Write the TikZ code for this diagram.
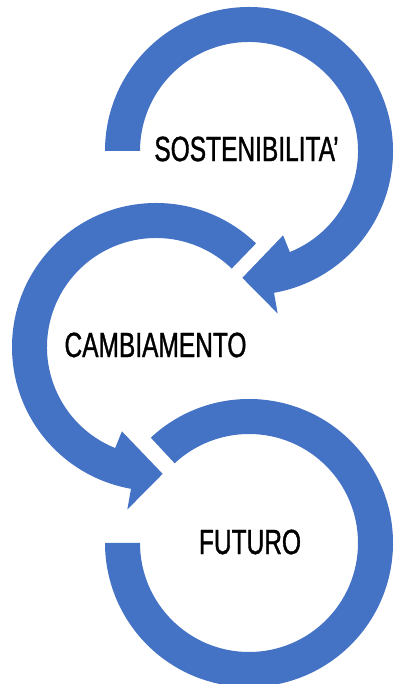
\documentclass[tikz,border=0pt]{standalone}
\usepackage{fontspec}
\usepackage{tikz}
\usetikzlibrary{positioning, calc}
\newfontfamily\ringfont[FakeStretch=0.7,FakeBold=1]{Liberation Sans}
\definecolor{ringblue}{RGB}{68,114,196}

\begin{document}
\begin{tikzpicture}[x=1pt,y=1pt,
  ring/.style={fill=ringblue},
  label/.style={inner sep=0pt,font=\ringfont\fontsize{35}{40}\selectfont}]
\useasboundingbox (0,0) rectangle (396,684);

% Top ring (clockwise, head at the bottom)
\coordinate (ctop) at (249,533);
\fill[ring,shift={(ctop)}] (180:144) arc[start angle=180,end angle=-80,radius=144]
  -- (-80:165) -- (-93:127) -- (-68:91) -- (-68:109)
  arc[start angle=-68,end angle=180,radius=109] -- cycle;
\node[label] (sost) at (246.5,535) {SOSTENIBILITA’};

% Middle ring (anticlockwise, head at the bottom)
\coordinate (cmid) at (156,337);
\fill[ring,shift={(cmid)}] (46:144) arc[start angle=46,end angle=260,radius=144]
  -- (260:165) -- (273:127) -- (248:91) -- (248:109)
  arc[start angle=248,end angle=46,radius=109] -- cycle;
\node[label] (camb) at (155.5,339) {CAMBIAMENTO};

% Bottom ring (no head)
\coordinate (cbot) at (249,141);
\fill[ring,shift={(cbot)}] (133:144) arc[start angle=133,end angle=-180,radius=144]
  -- (-180:109) arc[start angle=-180,end angle=133,radius=109] -- cycle;
\node[label] (fut) at (250,142) {FUTURO};
\end{tikzpicture}
\end{document}
